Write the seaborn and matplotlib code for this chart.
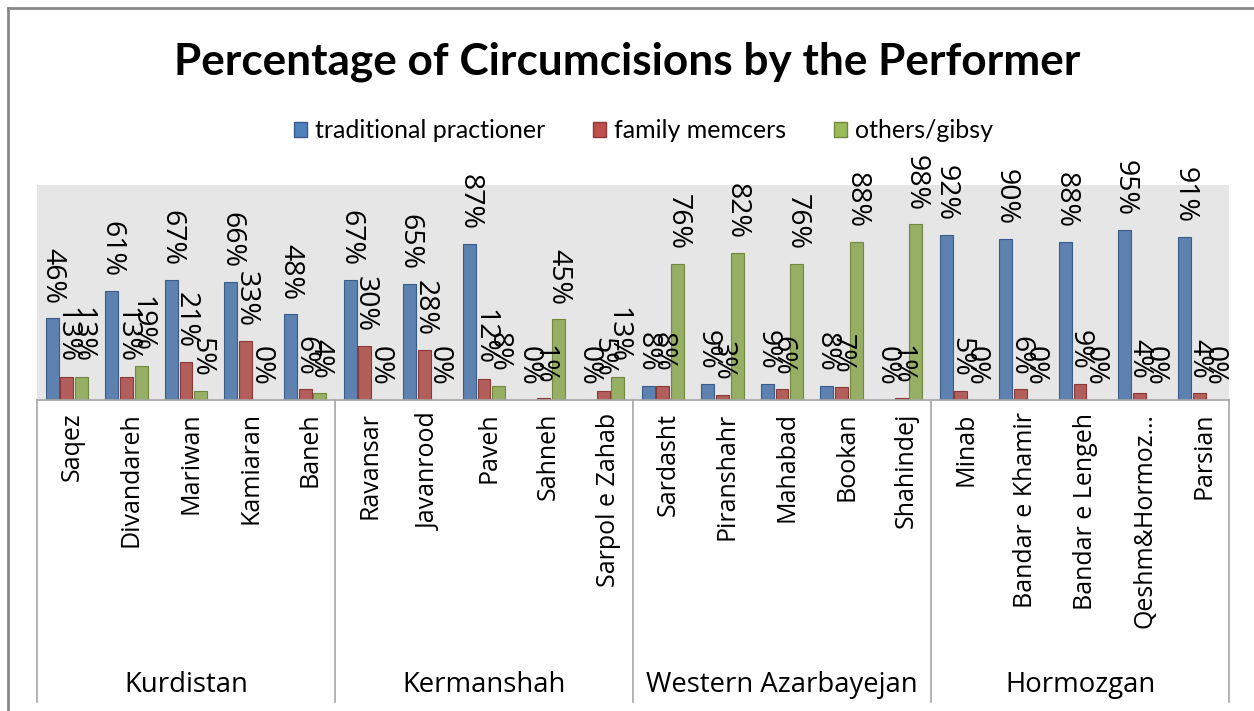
"""
Percentage of circumcisions by the performer, per city and province.
"""

import numpy as np
import pandas as pd
import matplotlib.pyplot as plt
import matplotlib.transforms as mtransforms
from matplotlib.lines import Line2D
from matplotlib.patches import Patch
import seaborn as sns


def criar_dados():
    cidades = [
        # provincia, cidade, tradicional, familia, outros
        ("Kurdistan", "Saqez", 46, 13, 13),
        ("Kurdistan", "Divandareh", 61, 13, 19),
        ("Kurdistan", "Mariwan", 67, 21, 5),
        ("Kurdistan", "Kamiaran", 66, 33, 0),
        ("Kurdistan", "Baneh", 48, 6, 4),
        ("Kermanshah", "Ravansar", 67, 30, 0),
        ("Kermanshah", "Javanrood", 65, 28, 0),
        ("Kermanshah", "Paveh", 87, 12, 8),
        ("Kermanshah", "Sahneh", 0, 1, 45),
        ("Kermanshah", "Sarpol e Zahab", 0, 5, 13),
        ("Western Azarbayejan", "Sardasht", 8, 8, 76),
        ("Western Azarbayejan", "Piranshahr", 9, 3, 82),
        ("Western Azarbayejan", "Mahabad", 9, 6, 76),
        ("Western Azarbayejan", "Bookan", 8, 7, 88),
        ("Western Azarbayejan", "Shahindej", 0, 1, 98),
        ("Hormozgan", "Minab", 92, 5, 0),
        ("Hormozgan", "Bandar e Khamir", 90, 6, 0),
        ("Hormozgan", "Bandar e Lengeh", 88, 9, 0),
        ("Hormozgan", "Qeshm&Hormoz…", 95, 4, 0),
        ("Hormozgan", "Parsian", 91, 4, 0),
    ]
    grupos = ["traditional practioner", "family memcers", "others/gibsy"]
    linhas = []
    for prov, cidade, *vals in cidades:
        for g, v in zip(grupos, vals):
            linhas.append({"province": prov, "city": cidade,
                           "performer": g, "value": v / 100})
    return pd.DataFrame(linhas), grupos


def main():
    df, grupos = criar_dados()
    cores = ["#4F81BD", "#C0504D", "#9BBB59"]
    bordas = ["#385D8A", "#8C3836", "#71893F"]
    cidades = list(dict.fromkeys(df["city"]))

    fig = plt.figure(figsize=(12.54, 7.11), dpi=100)
    ax = fig.add_axes([37 / 1254, 311 / 711, (1229 - 37) / 1254, 215 / 711])

    sns.barplot(data=df, x="city", y="value", hue="performer", order=cidades,
                hue_order=grupos, palette=cores, width=0.74, gap=0.12,
                ax=ax, legend=False, errorbar=None)

    ax.set_facecolor("#e6e6e6")
    ax.set_ylim(0, 1.2)
    ax.set_xlim(-0.5, len(cidades) - 0.5)
    ax.set_yticks([])
    ax.set_xlabel("")
    ax.set_ylabel("")
    for lado in ["top", "right", "left"]:
        ax.spines[lado].set_visible(False)
    ax.spines["bottom"].set_color("#a6a6a6")
    ax.spines["bottom"].set_linewidth(1.2)

    # rotulos de dados e bordas das barras
    for cont, borda in zip(ax.containers, bordas):
        for barra in cont:
            barra.set_edgecolor(borda)
            barra.set_linewidth(0.8)
        ax.bar_label(cont, labels=[f"{b.get_height():.0%}" for b in cont],
                     rotation=-90, padding=10, fontsize=20.5,
                     family="Open Sans", clip_on=False)

    # nomes das cidades
    ax.set_xticks(range(len(cidades)))
    ax.set_xticklabels(cidades, rotation=90, fontsize=18, family="Open Sans")
    ax.tick_params(axis="x", length=0, pad=9)
    desloca = mtransforms.ScaledTranslation(5 / 100, 0, fig.dpi_scale_trans)
    for rot in ax.get_xticklabels():
        rot.set_transform(rot.get_transform() + desloca)

    # provincias e linhas divisorias
    trans = mtransforms.blended_transform_factory(ax.transData, fig.transFigure)
    provincias = list(dict.fromkeys(df["province"]))
    for i, prov in enumerate(provincias):
        ax.text(i * 5 + 2, 0.037, prov, transform=trans, ha="center",
                va="center", fontsize=19.8, family="Open Sans")
    y_base = 311 / 711
    for xs in np.arange(-0.5, len(cidades), 5):
        fig.add_artist(Line2D([xs, xs], [0.0127, y_base], transform=trans,
                              color="#a6a6a6", lw=1.2))

    # legenda
    alcas = [Patch(facecolor=c, edgecolor=b) for c, b in zip(cores, bordas)]
    fig.legend(alcas, grupos, loc="center", bbox_to_anchor=(0.513, 1 - 131 / 711),
               ncol=3, frameon=False, prop={"family": "Lato", "size": 18},
               handlelength=0.55, handleheight=0.55, handletextpad=0.3,
               columnspacing=1.9)

    fig.text(0.5, 1 - 62 / 711, "Percentage of Circumcisions by the Performer",
             ha="center", va="center", fontsize=31.8, fontweight="bold",
             family="Lato")

    # moldura do grafico
    fig.add_artist(Line2D([8 / 1254, 1], [1 - 8 / 711, 1 - 8 / 711],
                          transform=fig.transFigure, color="#898989", lw=2))
    fig.add_artist(Line2D([8 / 1254, 8 / 1254], [0, 1 - 8 / 711],
                          transform=fig.transFigure, color="#898989", lw=2))

    fig.savefig("out.png", dpi=100, facecolor="white")


if __name__ == "__main__":
    main()
